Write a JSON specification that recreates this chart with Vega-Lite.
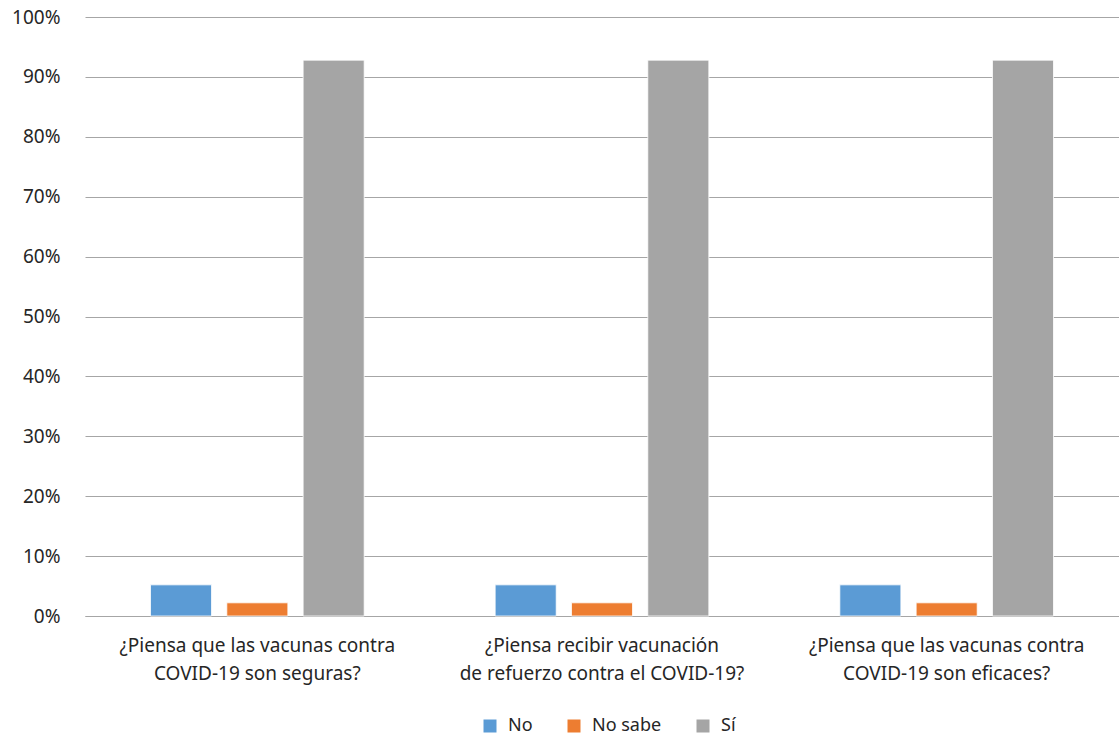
{
  "$schema": "https://vega.github.io/schema/vega-lite/v6.json",
  "width": 1034,
  "height": 599,
  "autosize": {"type": "none"},
  "padding": {"left": 85, "top": 17, "right": 0, "bottom": 121},
  "background": "white",
  "config": {
    "font": "Noto Sans",
    "view": {"stroke": null}
  },
  "data": {
    "values": [
      {"pregunta": "¿Piensa que las vacunas contra\nCOVID-19 son seguras?", "respuesta": "No", "valor": 0.052},
      {"pregunta": "¿Piensa que las vacunas contra\nCOVID-19 son seguras?", "respuesta": "No sabe", "valor": 0.022},
      {"pregunta": "¿Piensa que las vacunas contra\nCOVID-19 son seguras?", "respuesta": "Sí", "valor": 0.928},
      {"pregunta": "¿Piensa recibir vacunación\nde refuerzo contra el COVID-19?", "respuesta": "No", "valor": 0.052},
      {"pregunta": "¿Piensa recibir vacunación\nde refuerzo contra el COVID-19?", "respuesta": "No sabe", "valor": 0.022},
      {"pregunta": "¿Piensa recibir vacunación\nde refuerzo contra el COVID-19?", "respuesta": "Sí", "valor": 0.928},
      {"pregunta": "¿Piensa que las vacunas contra\nCOVID-19 son eficaces?", "respuesta": "No", "valor": 0.052},
      {"pregunta": "¿Piensa que las vacunas contra\nCOVID-19 son eficaces?", "respuesta": "No sabe", "valor": 0.022},
      {"pregunta": "¿Piensa que las vacunas contra\nCOVID-19 son eficaces?", "respuesta": "Sí", "valor": 0.928}
    ]
  },
  "mark": {"type": "bar", "stroke": "#ffffff", "strokeWidth": 0.8},
  "encoding": {
    "x": {
      "field": "pregunta",
      "type": "nominal",
      "sort": null,
      "scale": {"paddingInner": 0.38, "paddingOuter": 0.19},
      "axis": {
        "title": null,
        "labelAngle": 0,
        "labelExpr": "split(datum.value, '\\n')",
        "labelFontSize": 19,
        "labelColor": "#262626",
        "labelLineHeight": 28,
        "labelPadding": 20,
        "labelLimit": 0,
        "ticks": false,
        "domain": true,
        "domainColor": "#a6a6a6",
        "domainWidth": 1
      }
    },
    "xOffset": {
      "field": "respuesta",
      "type": "nominal",
      "sort": ["No", "No sabe", "Sí"],
      "scale": {"paddingInner": 0.2, "paddingOuter": 0}
    },
    "y": {
      "field": "valor",
      "type": "quantitative",
      "scale": {"domain": [0, 1], "nice": false},
      "axis": {
        "title": null,
        "format": ".0%",
        "values": [0, 0.1, 0.2, 0.3, 0.4, 0.5, 0.6, 0.7, 0.8, 0.9, 1],
        "labelFontSize": 19,
        "labelColor": "#262626",
        "labelPadding": 25,
        "ticks": false,
        "domain": false,
        "grid": true,
        "gridColor": "#a6a6a6",
        "gridWidth": 1
      }
    },
    "color": {
      "field": "respuesta",
      "type": "nominal",
      "sort": ["No", "No sabe", "Sí"],
      "scale": {"domain": ["No", "No sabe", "Sí"], "range": ["#5b9bd5", "#ed7d31", "#a5a5a5"]},
      "legend": {
        "title": null,
        "orient": "none",
        "legendX": 396,
        "legendY": 700,
        "direction": "horizontal",
        "symbolType": "square",
        "symbolSize": 169,
        "symbolStrokeWidth": 0,
        "labelFontSize": 18,
        "labelColor": "#262626",
        "labelOffset": 9,
        "columnPadding": 32
      }
    }
  }
}
